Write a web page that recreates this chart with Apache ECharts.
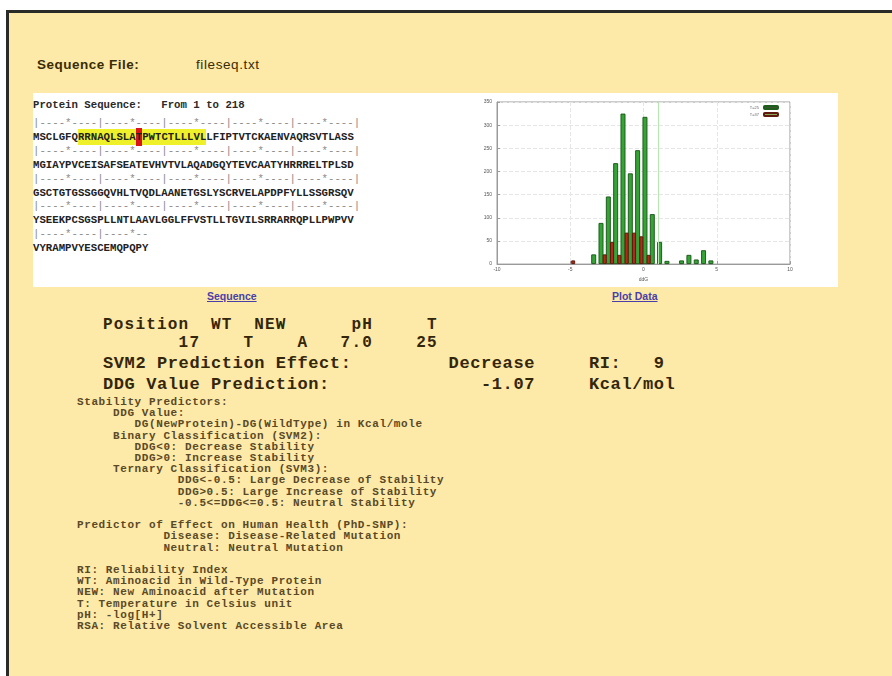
<!DOCTYPE html>
<html>
<head>
<meta charset="utf-8">
<script src="https://cdn.jsdelivr.net/npm/echarts@6/dist/echarts.min.js"></script>
<style>
  html, body { margin: 0; padding: 0; background: #fff; }
  #page { position: absolute; left: 6px; top: 10px; width: 886px; height: 666px;
          background: #fde9a8; border-top: 3px solid #2a2a26; border-left: 3px solid #2a2a26; box-sizing: border-box; }
  .abs { position: absolute; white-space: pre; margin: 0; }
  .mono { font-family: "Liberation Mono", "Courier New", monospace; font-weight: bold; }
  #panel { position: absolute; left: 33px; top: 93px; width: 805px; height: 194px; background: #fff; }
  #chart { position: absolute; left: 441px; top: 94px; width: 397px; height: 193px; }
  .link { font-family: "Liberation Sans", Arial, sans-serif; font-weight: bold; font-size: 10.5px;
          color: #4a3fa8; text-decoration: underline; }
</style>
</head>
<body>
<div id="page"></div>
<div class="abs" style="left:37px;top:57px;font:bold 13.5px 'Liberation Sans',Arial,sans-serif;letter-spacing:0.5px;color:#3a2c05;">Sequence File:</div>
<div class="abs" style="left:196px;top:57px;font:13.5px 'Liberation Sans',Arial,sans-serif;letter-spacing:0.6px;color:#3a2c05;">fileseq.txt</div>
<div id="panel"></div>
<div id="seqHead" class="abs mono" style="left:33px;top:98px;font-size:10.7px;line-height:14px;color:#2a2a2a;"></div>
<div id="seq" class="abs mono" style="left:33px;top:117px;font-size:10.7px;line-height:13.9px;color:#222;"></div>
<div id="chart"></div>
<div class="abs link" style="left:207px;top:290px;">Sequence</div>
<div class="abs link" style="left:612px;top:290px;">Plot Data</div>
<div id="result" class="abs mono" style="left:103px;top:319px;font-size:17px;letter-spacing:0.6px;line-height:15px;color:#33260a;"></div>
<div id="notes" class="abs mono" style="left:77px;top:397px;font-size:11px;letter-spacing:0.6px;line-height:11.2px;color:#5a4a26;"></div>
<script>
// histogram of ddG values (x = bar centre, y = count)
var greenX = [-3.4, -2.9, -2.4, -1.9, -1.4, -0.9, -0.4, 0.1, 0.6, 1.1, 1.6, 2.6, 3.1, 3.6, 4.1, 4.6];
var greenY = [21, 89, 146, 218, 325, 196, 246, 318, 108, 48, 7, 8, 20, 10, 30, 8];
var redX = [-4.8, -2.65, -2.15, -1.65, -1.15, -0.65, -0.15, 0.35];
var redY = [8, 21, 48, 20, 68, 68, 60, 20];
var xTicks = [-10, 10, 5];   // min, max, interval
var yTicks = [0, 350, 50];
var cutLine = 1.0;
var legendNames = ['T=25', 'T=37'];

// sequence text
var seqHeader = 'Protein Sequence:   From 1 to 218';
var seqLines = [
  'MSCLGFQRRNAQLSLATPWTCTLLLVLLFIPTVTCKAENVAQRSVTLASS',
  'MGIAYPVCEISAFSEATEVHVTVLAQADGQYTEVCAATYHRRRELTPLSD',
  'GSCTGTGSSGGQVHLTVQDLAANETGSLYSCRVELAPDPFYLLSSGRSQV',
  'YSEEKPCSGSPLLNTLAAVLGGLFFVSTLLTGVILSRRARRQPLLPWPVV',
  'VYRAMPVYESCEMQPQPY'
];
var mutPos = 17, winStart = 8, winEnd = 27;

var resultLines = [
  'Position  WT  NEW      pH     T',
  '       17    T    A   7.0    25',
  'SVM2 Prediction Effect:         Decrease     RI:   9',
  'DDG Value Prediction:              -1.07     Kcal/mol'
];
var resultTops = [-1, 17, 37, 58];
var resultSizes = [16, 16, 17, 17];
var charW = 10.8;

var notes = [
  'Stability Predictors:',
  '     DDG Value:',
  '        DG(NewProtein)-DG(WildType) in Kcal/mole',
  '     Binary Classification (SVM2):',
  '        DDG<0: Decrease Stability',
  '        DDG>0: Increase Stability',
  '     Ternary Classification (SVM3):',
  '              DDG<-0.5: Large Decrease of Stability',
  '              DDG>0.5: Large Increase of Stability',
  '              -0.5<=DDG<=0.5: Neutral Stability',
  '',
  'Predictor of Effect on Human Health (PhD-SNP):',
  '            Disease: Disease-Related Mutation',
  '            Neutral: Neutral Mutation',
  '',
  'RI: Reliability Index',
  'WT: Aminoacid in Wild-Type Protein',
  'NEW: New Aminoacid after Mutation',
  'T: Temperature in Celsius unit',
  'pH: -log[H+]',
  'RSA: Relative Solvent Accessible Area'
];

function esc(s) { return s.replace(/&/g, '&amp;').replace(/</g, '&lt;').replace(/>/g, '&gt;'); }

// build sequence block
document.getElementById('seqHead').textContent = seqHeader;
var html = '';
seqLines.forEach(function (line, i) {
  var ruler = '';
  for (var k = 0; k < line.length; k++) {
    ruler += (k % 10 === 0) ? '|' : (k % 10 === 5 ? '*' : '-');
  }
  if (line.length === 50) ruler += '|';
  html += '<span style="color:#8a8a8a;font-weight:normal">' + ruler + '</span>\n';
  var out = '';
  for (var k = 0; k < line.length; k++) {
    var pos = i * 50 + k + 1;
    var ch = line[k];
    if (pos === mutPos) out += '<span style="background:#d8141a;padding:3px 0">' + ch + '</span>';
    else if (pos >= winStart && pos <= winEnd) out += '<span style="background:#eef02a;padding:2px 0">' + ch + '</span>';
    else out += ch;
  }
  html += out + '\n';
});
document.getElementById('seq').innerHTML = html;

// result rows: each word group placed at its monospace column
var rh = '';
resultLines.forEach(function (l, i) {
  var re = /\S+(?: \S+)*/g, m;
  var fs = resultSizes[i];
  var ls = (charW - fs * 0.6).toFixed(2);
  while ((m = re.exec(l)) !== null) {
    rh += '<div style="position:absolute;left:' + (m.index * charW).toFixed(1) + 'px;top:' +
          resultTops[i] + 'px;font-size:' + fs + 'px;letter-spacing:' + ls + 'px">' + esc(m[0]) + '</div>';
  }
});
document.getElementById('result').innerHTML = rh;
document.getElementById('notes').textContent = notes.join('\n');

var chart = echarts.init(document.getElementById('chart'));
var axisCommon = {
  type: 'value',
  min: xTicks[0], max: xTicks[1], interval: xTicks[2]
};
var option = {
  backgroundColor: '#fff',
  animation: false,
  grid: { left: 56, right: 48, top: 8, bottom: 20, show: true, borderColor: '#9a9a9a', borderWidth: 1 },
  legend: {
    right: 54, top: 6, orient: 'vertical', align: 'right',
    itemWidth: 14, itemHeight: 3, itemGap: 2,
    textStyle: { fontSize: 4, color: '#666' },
    data: [
      { name: legendNames[0], itemStyle: { color: '#3e5230' } },
      { name: legendNames[1], itemStyle: { color: '#8aa654' } }
    ]
  },
  xAxis: [
    Object.assign({}, axisCommon, {
      name: 'ddG', nameLocation: 'middle', nameGap: 9,
      nameTextStyle: { fontSize: 5, color: '#555' },
      axisLine: { onZero: false, lineStyle: { color: '#9a9a9a' } },
      axisTick: { inside: true, length: 3, lineStyle: { color: '#9a9a9a' } },
      axisLabel: { fontSize: 5, color: '#555', margin: 3 },
      splitLine: { show: true, lineStyle: { color: '#e6e6e6', type: 'dashed' } }
    }),
    Object.assign({}, axisCommon, { show: false })
  ],
  yAxis: {
    type: 'value', min: yTicks[0], max: yTicks[1], interval: yTicks[2],
    axisLine: { show: true, onZero: false, lineStyle: { color: '#9a9a9a' } },
    axisTick: { show: true, inside: true, length: 3, lineStyle: { color: '#9a9a9a' } },
    axisLabel: { fontSize: 5, color: '#555', margin: 5 },
    splitLine: { show: true, lineStyle: { color: '#e6e6e6', type: 'dashed' } }
  },
  series: [
    {
      name: legendNames[0], type: 'bar', xAxisIndex: 0, barWidth: 5,
      itemStyle: { color: '#36a336', borderColor: '#1d5e1d', borderWidth: 1 },
      data: greenX.map(function (x, i) { return [x, greenY[i]]; }),
      markLine: {
        silent: true, symbol: 'none', label: { show: false },
        lineStyle: { color: '#b8e6b0', width: 1, type: 'solid' },
        data: [{ xAxis: cutLine }]
      }
    },
    {
      name: legendNames[1], type: 'bar', xAxisIndex: 1, barWidth: 4,
      itemStyle: { color: '#b32a18', borderColor: '#5e1a0c', borderWidth: 1 },
      data: redX.map(function (x, i) { return [x, redY[i]]; })
    }
  ]
};
chart.setOption(option);
</script>
</body>
</html>
